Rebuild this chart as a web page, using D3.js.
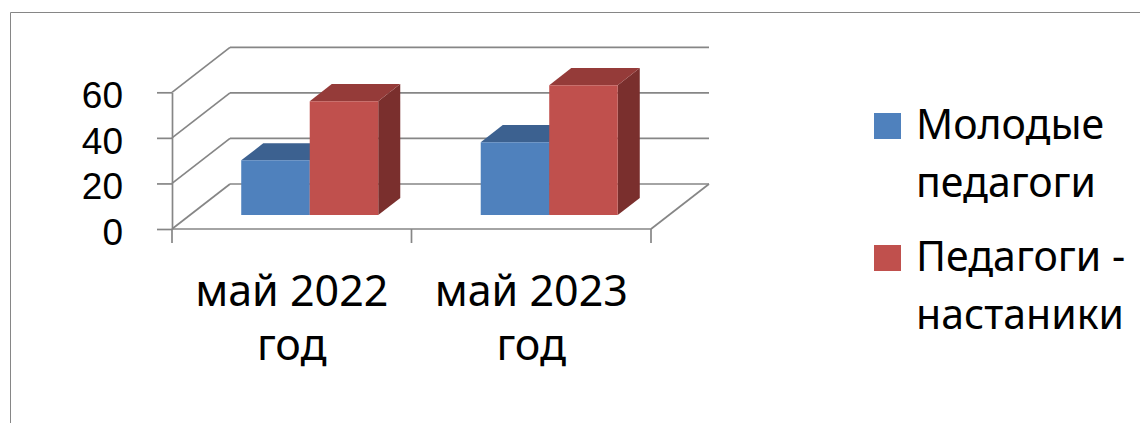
<!DOCTYPE html>
<html>
<head>
<meta charset="utf-8">
<script src="https://cdn.jsdelivr.net/npm/d3@7"></script>
<style>
	body { margin: 0; background: #fff; }
	svg { display: block; font-family: "Noto Sans", "Open Sans", sans-serif; }
</style>
</head>
<body>
<svg id="chart"></svg>
<script>
// ========== DATA ==========
var categories = ['май 2022 год', 'май 2023 год'];
var catLines = [['май 2022', 'год'], ['май 2023', 'год']];
var seriesNames = ['Молодые педагоги', 'Педагоги - настаники'];
var legendLines = [['Молодые', 'педагоги'], ['Педагоги -', 'настаники']];
var young = [24, 32];
var mentors = [50, 57];
var yTicks = [0, 20, 40, 60];

// ========== CONSTANTS ==========
var W = 1140, H = 423;
var grid_color = '#868686';
var fronts = ['#4f81bd', '#c0504d'];
var tops = ['#3c6190', '#953b39'];
var sides = ['#2f4d72', '#7a2f2d'];

// depth of the 3d box (offset from front plane to back wall)
var DX = 58, DY = -45;
var Z0 = 0.31, Z1 = 0.69;

var svg = d3.select('#chart')
	.attr('width', W)
	.attr('height', H);

var x = d3.scaleBand()
	.domain(categories)
	.range([172, 651]);
var y = d3.scaleLinear()
	.domain([0, 60])
	.range([229, 92.3]);
var inner = d3.scaleBand()
	.domain([0, 1])
	.range([0, x.bandwidth() * 0.572]);

function P(px, py, z) {
	return [px + z * DX, py + z * DY];
}

// chart frame
svg.append('path')
	.attr('d', 'M10.5,' + H + 'V12.5H' + W)
	.attr('fill', 'none')
	.attr('stroke', grid_color)
	.attr('stroke-width', 1);

var walls = svg.append('g')
	.attr('fill', 'none')
	.attr('stroke', grid_color)
	.attr('stroke-width', 1.7);

// back wall gridlines + side wall diagonals
yTicks.forEach(function(v) {
	var a = P(172, y(v), 1), b = P(651, y(v), 1);
	walls.append('line')
		.attr('x1', a[0]).attr('y1', a[1])
		.attr('x2', b[0]).attr('y2', b[1]);
	walls.append('line')
		.attr('x1', 172).attr('y1', y(v))
		.attr('x2', a[0]).attr('y2', a[1]);
});

// floor right edge
var fr = P(651, y(0), 1);
walls.append('line')
	.attr('x1', 651).attr('y1', y(0))
	.attr('x2', fr[0]).attr('y2', fr[1]);

// front floor line + category ticks
walls.append('line')
	.attr('x1', 172).attr('y1', y(0))
	.attr('x2', 651).attr('y2', y(0));
var xEdges = categories.map(function(c) { return x(c); }).concat([651]);
xEdges.forEach(function(e) {
	walls.append('line')
		.attr('x1', e).attr('y1', y(0))
		.attr('x2', e).attr('y2', y(0) + 14);
});

// y axis
var yAxis = svg.append('g')
	.attr('transform', 'translate(172,0)')
	.call(d3.axisLeft(y).tickValues(yTicks).tickSizeInner(15).tickSizeOuter(0).tickPadding(34));
yAxis.selectAll('path, line')
	.attr('stroke', grid_color)
	.attr('stroke-width', 1.7);
yAxis.selectAll('text')
	.attr('font-family', '"Liberation Sans", sans-serif')
	.attr('font-size', 37)
	.attr('fill', '#000')
	.attr('dy', 15.5);

// bars
var bars = svg.append('g');
categories.forEach(function(c, i) {
	var vals = [young[i], mentors[i]];
	var gx = x(c) + (x.bandwidth() - inner.range()[1]) / 2;
	vals.forEach(function(v, s) {
		var x0 = gx + inner(s), x1 = x0 + inner.bandwidth();
		var ft = P(x0, y(v), Z0), ftr = P(x1, y(v), Z0);
		var fb = P(x0, y(0), Z0), fbr = P(x1, y(0), Z0);
		var bt = P(x0, y(v), Z1), btr = P(x1, y(v), Z1);
		var bbr = P(x1, y(0), Z1);
		bars.append('polygon')
			.attr('points', [ftr, btr, bbr, fbr].join(' '))
			.attr('fill', sides[s]);
		bars.append('polygon')
			.attr('points', [ft, ftr, btr, bt].join(' '))
			.attr('fill', tops[s]);
		bars.append('polygon')
			.attr('points', [ft, ftr, fbr, fb].join(' '))
			.attr('fill', fronts[s]);
	});
});

// category labels
categories.forEach(function(c, i) {
	var t = svg.append('text')
		.attr('text-anchor', 'middle')
		.attr('font-size', 43)
		.attr('fill', '#000');
	catLines[i].forEach(function(line, k) {
		t.append('tspan')
			.attr('x', x(c) + x.bandwidth() / 2)
			.attr('y', 306 + k * 54)
			.text(line);
	});
});

// legend
var legend = svg.append('g');
seriesNames.forEach(function(name, s) {
	var top = 113 + s * 132;
	legend.append('rect')
		.attr('x', 874)
		.attr('y', top)
		.attr('width', 27)
		.attr('height', 26)
		.attr('fill', fronts[s]);
	var t = legend.append('text')
		.attr('font-size', 41)
		.attr('fill', '#000');
	legendLines[s].forEach(function(line, k) {
		t.append('tspan')
			.attr('x', 916)
			.attr('y', top + 26 + k * 58)
			.text(line);
	});
});
</script>
</body>
</html>
